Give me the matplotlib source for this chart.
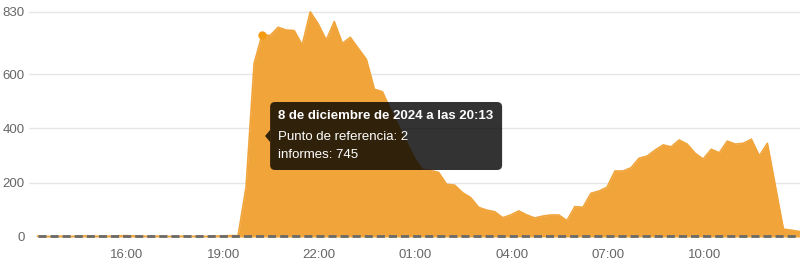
import matplotlib
matplotlib.use("Agg")
import matplotlib.pyplot as plt
import matplotlib.dates as mdates
from matplotlib.patches import FancyBboxPatch, Polygon
from matplotlib.transforms import IdentityTransform
import pandas as pd

plt.rcParams['font.family'] = ['Liberation Sans', 'DejaVu Sans']

# datos: un punto cada 15 minutos desde el 8 dic 13:13
inicio = "2024-12-08 13:13"
informes = [
    3, 2, 2, 3, 2, 3, 4, 3, 2, 3, 4, 5, 4, 3, 2, 3, 2, 2, 3, 2, 3, 2, 3, 4, 5,
    5, 184, 639,
    745, 742, 772, 762, 760, 707, 829, 784, 725, 793, 713, 735, 694, 654, 544, 535,
    470, 410, 350, 290, 248, 245, 238, 194, 191, 163, 145, 109, 99, 93, 71, 81,
    96, 81, 70, 77, 81, 81, 60, 112, 109, 161, 169, 183, 243, 243, 255, 290,
    298, 320, 339, 332, 357, 342, 308, 287, 323, 310, 353, 342, 345, 360, 299, 345,
    187, 29, 25, 20,
]
referencia = [2] * len(informes)
yticks = [0, 200, 400, 600, 830]
hover_idx = 28
hover_titulo = "8 de diciembre de 2024 a las 20:13"

tiempos = pd.date_range(inicio, periods=len(informes), freq="15min")

fig = plt.figure(figsize=(8, 2.69), dpi=100)
ax = fig.add_axes([0.03625, 0.119, 0.96375, 0.84])

naranja = "#f0a43a"
ax.fill_between(tiempos, informes, color=naranja, lw=0, zorder=2)
ax.plot(tiempos, informes, color=naranja, lw=1.2, zorder=3)
ax.plot(tiempos, referencia, color="#6a6a6a", lw=2, dashes=(2.9, 1.45),
        zorder=4, clip_on=False)
ax.plot(tiempos[hover_idx], informes[hover_idx], 'o', color='#f39c12', ms=5, zorder=5)

ax.set_xlim(tiempos[0] - pd.Timedelta(minutes=16), tiempos[-1] + pd.Timedelta(minutes=1))
ax.set_ylim(0, 832)
ax.set_yticks(yticks)
ax.xaxis.set_major_locator(mdates.HourLocator(byhour=[16, 19, 22, 1, 4, 7, 10]))
ax.xaxis.set_major_formatter(mdates.DateFormatter('%H:%M'))
ax.grid(axis='y', color='#e6e6e6', lw=1)
ax.set_axisbelow(True)
for s in ax.spines.values():
    s.set_visible(False)
ax.tick_params(length=0, labelsize=9.5, colors='#666666')
ax.tick_params(axis='y', pad=3)
ax.tick_params(axis='x', pad=8.5)

# tooltip
H = 269
px = ax.transData.transform((mdates.date2num(tiempos[hover_idx]), 0))[0]
tip_x = px + 3
izq = tip_x + 5
caja = FancyBboxPatch((izq, H - 170), 232, 68, boxstyle="round,pad=0,rounding_size=5",
                      fc='black', ec='none', alpha=0.8, transform=IdentityTransform())
fig.add_artist(caja)
flecha = Polygon([[tip_x, H - 136], [izq, H - 130], [izq, H - 142]], closed=True,
                 fc='black', ec='none', alpha=0.8, transform=IdentityTransform())
fig.add_artist(flecha)
fig.text(izq + 8, H - 116, hover_titulo, transform=IdentityTransform(), color='white',
         fontsize=9.5, fontweight='bold', va='center')
fig.text(izq + 8, H - 137, "Punto de referencia: %d" % referencia[hover_idx],
         transform=IdentityTransform(), color='white', fontsize=9.5, va='center')
fig.text(izq + 8, H - 155, "informes: %d" % informes[hover_idx],
         transform=IdentityTransform(), color='white', fontsize=9.5, va='center')

fig.savefig("out.png", dpi=100)
